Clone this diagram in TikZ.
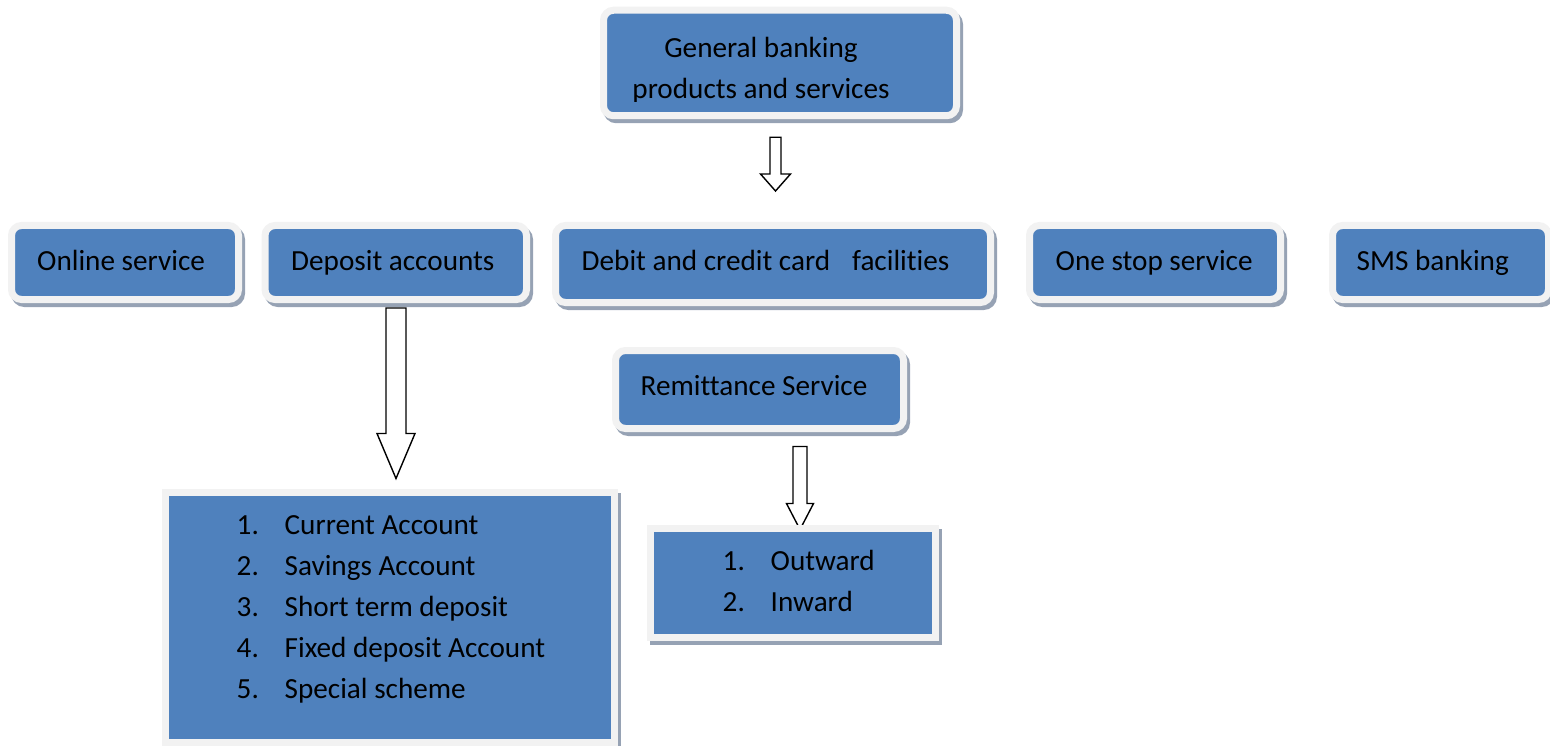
\documentclass[tikz,border=0pt]{standalone}
\usepackage{fontspec}
\setmainfont{Carlito}[RawFeature={-liga;-clig;-calt}]
\usetikzlibrary{positioning,calc,backgrounds}

\definecolor{boxblue}{HTML}{4F81BD}
\definecolor{ringgrey}{HTML}{F2F2F2}
\definecolor{shadowgrey}{HTML}{96A2B4}

\newcommand{\boxfont}{\fontsize{29.2}{41}\selectfont}

% hollow block arrow pointing down: start, tip, shaft half width, head half width, head length
\newcommand{\hollowarrow}[5]{%
  \draw[blockarrow] let \p1=(#1), \p2=(#2) in
    (\x1-#3pt,\y1) -- (\x1-#3pt,\y2+#5pt) -- (\x1-#4pt,\y2+#5pt) -- (\x1,\y2)
    -- (\x1+#4pt,\y2+#5pt) -- (\x1+#3pt,\y2+#5pt) -- (\x1+#3pt,\y1) -- cycle;}

\tikzset{
  card/.style={draw=ringgrey, fill=boxblue, line width=7pt, rounded corners=10pt, inner sep=0pt,
    preaction={draw=shadowgrey, fill=shadowgrey, line width=7pt,
      transform canvas={shift={(3pt,-4pt)}}}},
  listcard/.style={card, sharp corners},
  cardlabel/.style={inner sep=0pt, font=\boxfont, anchor=base west, yshift=-7.5pt},
  cardlist/.style={inner sep=0pt, font=\boxfont, anchor=base west},
  blockarrow/.style={draw=black, fill=white, line width=1.4pt, line join=miter},
}

\begin{document}
\begin{tikzpicture}[x=1pt, y=-1pt]
\useasboundingbox (0,0) rectangle (1550,746);

% top box
\node[card, minimum width=353pt, minimum height=105.5pt] (gen) at (780,63) {};
\begin{scope}
  \clip (600,0) rectangle (960,102);
  \node[inner sep=0pt, anchor=base, font=\fontsize{29.2}{41}\selectfont] (gentext) at (761,57.5)
    {\begin{tabular}[t]{@{}c@{}}General banking\\products and services\end{tabular}};
\end{scope}

% services row
\node[card, minimum width=227pt, minimum height=74pt] (online) at (125,262.5) {};
\node[card, minimum width=261.5pt, minimum height=74pt] (deposit) at (395.75,262.5) {};
\node[card, minimum width=435pt, minimum height=77pt] (cards) at (773,264) {};
\node[card, minimum width=251pt, minimum height=74pt] (onestop) at (1155,262.5) {};
\node[card, minimum width=216pt, minimum height=74pt] (sms) at (1440.5,262.5) {};

\node[right=29pt of online.west, cardlabel] (onlinetext) {Online service};
\node[right=29.5pt of deposit.west, cardlabel] (deposittext) {Deposit accounts};
\node[right=29.5pt of cards.west, cardlabel, yshift=1.5pt] (cardstext) {Debit and credit card\hspace{22pt}facilities};
\node[right=29.5pt of onestop.west, cardlabel] (onestoptext) {One stop service};
\node[right=27.5pt of sms.west, cardlabel] (smstext) {SMS banking};

% remittance
\node[card, minimum width=288pt, minimum height=78pt] (remit) at (759.5,389.5) {};
\node[right=28.5pt of remit.west, cardlabel, yshift=2pt] (remittext) {Remittance Service};

% lists
\node[listcard, minimum width=449pt, minimum height=250pt] (deplist) at (390,617.5) {};
\node[cardlist] (deplisttext) at (236.5,534)
  {\begin{tabular}[t]{@{}p{48pt}@{}l@{}}
    1. & Current Account\\
    2. & Savings Account\\
    3. & Short term deposit\\
    4. & Fixed deposit Account\\
    5. & Special scheme
  \end{tabular}};

\node[listcard, minimum width=285pt, minimum height=109pt] (remitlist) at (793,583) {};
\node[cardlist] (remitlisttext) at (722.5,570)
  {\begin{tabular}[t]{@{}p{48pt}@{}l@{}}
    1. & Outward\\
    2. & Inward
  \end{tabular}};

% arrows
\hollowarrow{$(gen.south)+(-4.5,18)$}{$(cards.north)+(2.5,-31)$}{5.5}{15}{17}
\hollowarrow{$(deposit.south)+(0.25,5)$}{$(deplist.north)+(6,-10.5)$}{10}{19}{45}
\begin{scope}[on background layer]
  \hollowarrow{$(remit.south)+(40.5,14.5)$}{$(remitlist.north)+(7,4.5)$}{7}{13.5}{26}
\end{scope}
\end{tikzpicture}
\end{document}
